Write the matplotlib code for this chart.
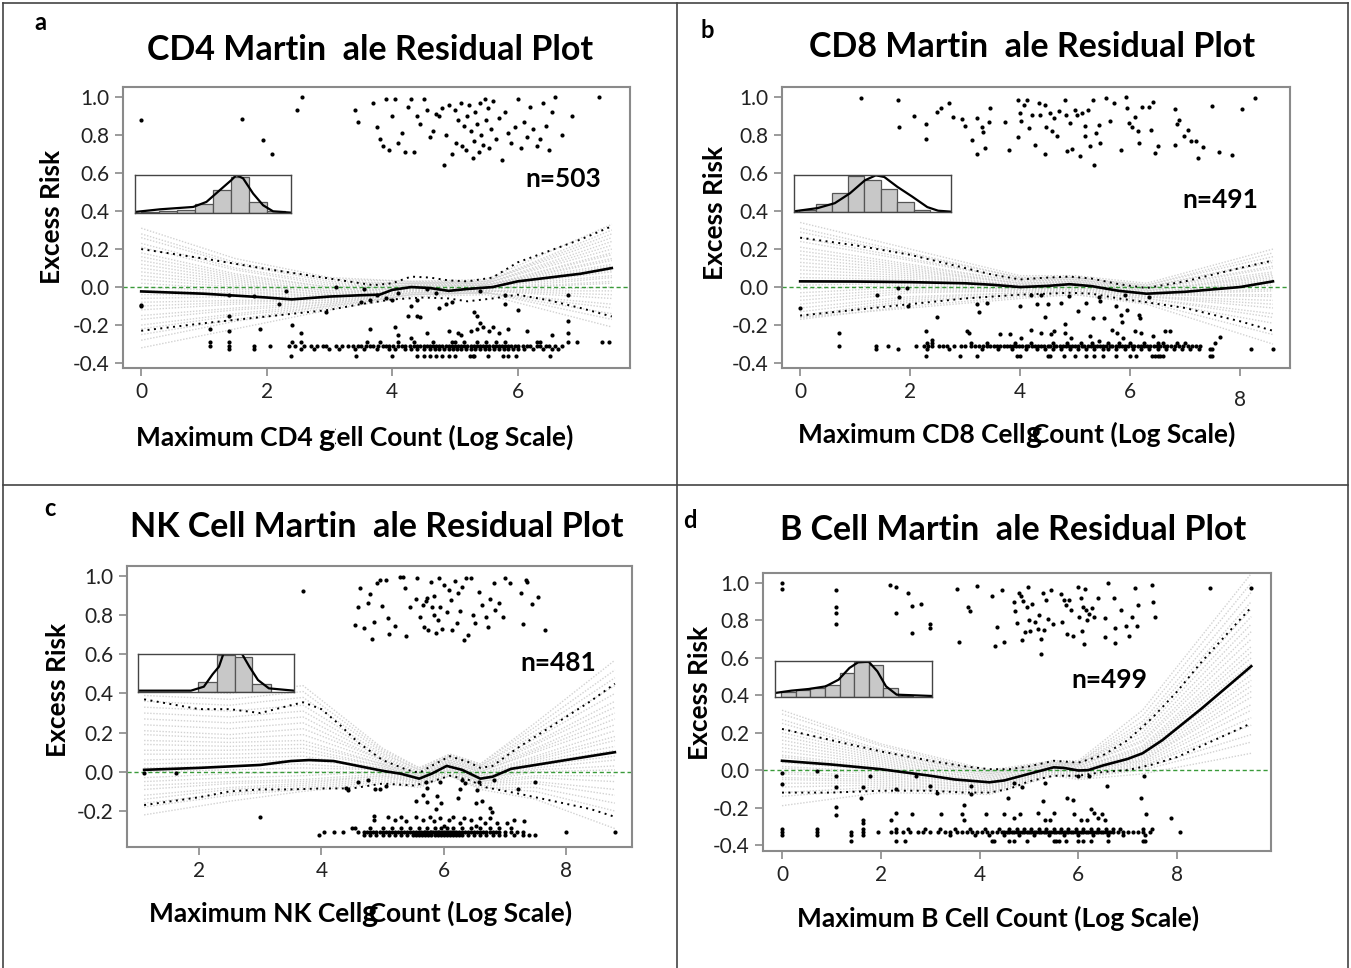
import numpy as np
import matplotlib
matplotlib.use("Agg")
import matplotlib.pyplot as plt
from matplotlib.lines import Line2D

W, H = 1351, 968
FONT = "Lato"

# ---------------- panel a : CD4 ----------------
cd4_fit_x = [0, 1, 2, 2.4, 3, 3.5, 3.8, 4.0, 4.3, 4.6, 4.9, 5.2, 5.6, 6.0, 7.0, 7.5]
cd4_fit_y = [-0.023, -0.035, -0.055, -0.065, -0.05, -0.043, -0.04, -0.015, 0.0, -0.005, -0.02, -0.01, 0.0, 0.03, 0.07, 0.10]
cd4_up_x = [0, 1, 2, 3, 3.7, 4.0, 4.3, 4.6, 4.9, 5.2, 5.6, 6.0, 7.0, 7.5]
cd4_up_y = [0.20, 0.15, 0.095, 0.045, 0.01, 0.02, 0.055, 0.05, 0.035, 0.03, 0.05, 0.13, 0.25, 0.32]
cd4_lo_x = [0, 1, 2, 3, 3.5, 4.0, 4.5, 4.9, 5.2, 5.6, 6.0, 6.5, 7.0, 7.5]
cd4_lo_y = [-0.23, -0.19, -0.155, -0.12, -0.09, -0.065, -0.055, -0.06, -0.075, -0.06, -0.04, -0.07, -0.11, -0.155]
cd4_boot_x = [0, 1.5, 3, 4.3, 5.5, 7.5]
cd4_boot = [
    [0.31, 0.15, 0.05, 0.03, 0.04, 0.33], [0.28, 0.13, 0.04, 0.03, 0.03, 0.30],
    [0.26, 0.12, 0.03, 0.02, 0.03, 0.28], [0.23, 0.10, 0.02, 0.02, 0.03, 0.26],
    [0.21, 0.09, 0.01, 0.02, 0.02, 0.24], [0.18, 0.07, 0.0, 0.02, 0.02, 0.22],
    [0.16, 0.06, 0.0, 0.01, 0.02, 0.20], [0.14, 0.05, -0.01, 0.01, 0.01, 0.18],
    [0.12, 0.04, -0.02, 0.01, 0.01, 0.17], [0.10, 0.03, -0.02, 0.01, 0.01, 0.15],
    [0.08, 0.02, -0.03, 0.0, 0.01, 0.14], [0.06, 0.01, -0.03, 0.0, 0.01, 0.12],
    [0.04, 0.0, -0.04, 0.0, 0.0, 0.11], [0.02, -0.01, -0.04, 0.0, 0.0, 0.09],
    [0.0, -0.02, -0.05, -0.01, 0.0, 0.08], [-0.02, -0.03, -0.05, -0.01, 0.0, 0.06],
    [-0.04, -0.04, -0.06, -0.01, -0.01, 0.05], [-0.06, -0.05, -0.06, -0.01, -0.01, 0.03],
    [-0.08, -0.07, -0.07, -0.02, -0.01, 0.02], [-0.10, -0.08, -0.07, -0.02, -0.02, 0.0],
    [-0.12, -0.09, -0.08, -0.02, -0.02, -0.02], [-0.15, -0.11, -0.08, -0.03, -0.02, -0.04],
    [-0.17, -0.12, -0.09, -0.03, -0.02, -0.06], [-0.20, -0.14, -0.09, -0.03, -0.03, -0.09],
    [-0.22, -0.15, -0.10, -0.04, -0.03, -0.11], [-0.25, -0.17, -0.10, -0.04, -0.03, -0.14],
    [-0.28, -0.18, -0.11, -0.04, -0.03, -0.17], [-0.32, -0.22, -0.12, -0.05, -0.04, -0.21]]
cd4_pts = [
    (0, 0.88), (1.61, 0.886), (1.94, 0.775), (2.08, 0.70), (2.48, 0.93), (2.57, 1.0),
    (3.4, 0.93), (3.45, 0.87), (3.7, 0.97), (3.75, 0.84), (3.8, 0.78), (3.85, 0.74), (3.9, 0.99),
    (3.95, 0.72), (4.0, 0.9), (4.05, 0.99), (4.1, 0.76), (4.15, 0.81), (4.2, 0.71), (4.25, 0.95),
    (4.3, 0.99), (4.35, 0.71), (4.4, 0.9), (4.45, 0.86), (4.5, 0.99), (4.55, 0.93), (4.6, 0.79),
    (4.65, 0.82), (4.7, 0.91), (4.75, 0.90), (4.8, 0.94), (4.82, 0.64), (4.85, 0.80), (4.9, 0.96),
    (4.95, 0.70), (5.0, 0.93), (5.02, 0.76), (5.05, 0.88), (5.1, 0.97), (5.12, 0.74), (5.15, 0.85),
    (5.18, 0.72), (5.2, 0.90), (5.22, 0.96), (5.25, 0.82), (5.28, 0.68), (5.3, 0.77), (5.32, 0.92),
    (5.35, 0.86), (5.38, 0.71), (5.4, 0.97), (5.42, 0.80), (5.45, 0.75), (5.48, 0.99), (5.5, 0.88),
    (5.52, 0.94), (5.55, 0.73), (5.58, 0.83), (5.6, 0.98), (5.65, 0.78), (5.7, 0.89), (5.75, 0.67),
    (5.8, 0.92), (5.85, 0.81), (5.9, 0.76), (5.95, 0.84), (6.0, 0.99), (6.05, 0.73), (6.1, 0.87),
    (6.15, 0.79), (6.2, 0.95), (6.25, 0.83), (6.3, 0.74), (6.35, 0.78), (6.4, 0.97), (6.45, 0.85),
    (6.5, 0.72), (6.55, 0.92), (6.6, 1.0), (6.7, 0.80), (6.86, 0.90), (7.3, 1.0),
    (0, -0.10), (0, -0.092), (1.4, -0.04), (1.8, -0.045), (2.2, -0.09), (2.3, -0.02), (3.1, 0.0),
    (3.5, -0.08), (3.55, -0.01), (3.65, -0.07), (3.75, -0.04), (3.9, -0.06), (4.0, -0.07),
    (4.1, -0.03), (4.3, -0.1), (4.4, -0.07), (4.55, -0.01), (4.7, -0.03), (4.75, -0.11),
    (4.85, -0.09), (4.95, -0.08), (5.4, -0.02), (5.8, -0.04), (5.8, -0.09), (6.8, -0.04),
    (1.1, -0.22), (1.4, -0.15), (1.4, -0.23), (1.9, -0.22), (2.4, -0.20), (2.55, -0.24),
    (2.95, -0.13), (3.65, -0.22), (4.05, -0.21), (4.1, -0.25), (4.25, -0.15), (4.3, -0.27),
    (4.4, -0.15), (4.45, -0.16), (4.55, -0.24), (4.9, -0.23), (5.05, -0.24), (5.1, -0.25),
    (5.25, -0.23), (5.3, -0.13), (5.35, -0.15), (5.35, -0.22), (5.4, -0.19), (5.45, -0.21),
    (5.55, -0.23), (5.6, -0.21), (5.7, -0.24), (5.85, -0.22), (6.0, -0.12), (6.15, -0.23),
    (6.55, -0.25), (6.8, -0.24), (6.8, -0.18)]
cd4_rows = {
    -0.29: [1.1, 1.4, 2.4, 2.55, 3.6, 3.8, 4.1, 4.35, 4.65, 4.95, 5.0, 5.15, 5.35, 5.5, 5.65,
            5.8, 6.3, 6.35, 6.8, 6.95, 7.35, 7.45],
    -0.31: [1.1, 1.4, 1.8, 2.05, 2.35, 2.45, 2.6, 2.7, 2.8, 2.9, 2.95, 3.1, 3.2, 3.3, 3.38, 3.45,
            3.5, 3.58, 3.65, 3.7, 3.78, 3.85, 3.9, 3.95, 4.02, 4.1, 4.15, 4.2, 4.28, 4.35, 4.4,
            4.45, 4.5, 4.55, 4.6, 4.65, 4.7, 4.75, 4.8, 4.85, 4.9, 4.95, 5.0, 5.05, 5.1, 5.15,
            5.2, 5.25, 5.3, 5.35, 5.4, 5.45, 5.5, 5.55, 5.6, 5.65, 5.7, 5.75, 5.8, 5.85, 5.9,
            5.95, 6.0, 6.08, 6.15, 6.2, 6.3, 6.35, 6.45, 6.5, 6.6, 6.7],
    -0.325: [1.4, 1.8, 2.55, 2.75, 3.0, 3.15, 3.4, 3.55, 3.75, 3.95, 4.05, 4.2, 4.3, 4.4, 4.5,
             4.6, 4.68, 4.75, 4.82, 4.9, 4.97, 5.03, 5.1, 5.18, 5.25, 5.32, 5.4, 5.48, 5.55,
             5.62, 5.7, 5.78, 5.85, 5.92, 6.0, 6.1, 6.25, 6.4, 6.55, 6.65],
    -0.362: [2.39, 3.43, 4.0, 4.4, 4.5, 4.6, 4.7, 4.8, 4.9, 5.0, 5.24, 5.28, 5.31, 5.52, 5.76,
             5.85, 5.97, 6.52]}
cd4_hist_left = [0.038, 0.154, 0.269, 0.384, 0.499, 0.614, 0.729, 0.845]
cd4_hist_h = [0.02, 0.06, 0.09, 0.24, 0.61, 0.96, 0.29, 0.05]
cd4_dens_x = [0, 0.16, 0.373, 0.458, 0.544, 0.618, 0.65, 0.693, 0.757, 0.821, 0.885, 1.0]
cd4_dens_y = [0.027, 0.097, 0.159, 0.292, 0.602, 0.867, 1.0, 0.912, 0.513, 0.204, 0.044, 0.009]

# ---------------- panel b : CD8 ----------------
cd8_fit_x = [0, 1, 2, 3, 3.5, 4, 4.5, 4.9, 5.3, 5.8, 6.3, 7, 8, 8.6]
cd8_fit_y = [0.03, 0.029, 0.026, 0.02, 0.012, 0.0, 0.006, 0.015, 0.005, -0.02, -0.035, -0.025, 0.0, 0.03]
cd8_up_y = [0.26, 0.22, 0.17, 0.10, 0.065, 0.04, 0.05, 0.055, 0.045, 0.015, -0.005, 0.03, 0.10, 0.14]
cd8_lo_y = [-0.15, -0.12, -0.09, -0.06, -0.05, -0.04, -0.035, -0.03, -0.035, -0.06, -0.08, -0.11, -0.18, -0.23]
cd8_boot_x = [0, 2, 4, 5, 6.3, 8.6]
cd8_boot = [
    [0.34, 0.20, 0.06, 0.06, 0.02, 0.20], [0.31, 0.18, 0.05, 0.05, 0.01, 0.18],
    [0.29, 0.17, 0.05, 0.05, 0.01, 0.16], [0.26, 0.15, 0.04, 0.05, 0.0, 0.14],
    [0.24, 0.14, 0.04, 0.04, 0.0, 0.13], [0.21, 0.12, 0.03, 0.04, -0.01, 0.11],
    [0.19, 0.11, 0.03, 0.04, -0.01, 0.10], [0.17, 0.10, 0.02, 0.03, -0.01, 0.08],
    [0.15, 0.09, 0.02, 0.03, -0.02, 0.07], [0.13, 0.08, 0.02, 0.03, -0.02, 0.06],
    [0.11, 0.07, 0.01, 0.02, -0.02, 0.05], [0.09, 0.06, 0.01, 0.02, -0.03, 0.04],
    [0.07, 0.05, 0.01, 0.02, -0.03, 0.03], [0.05, 0.04, 0.0, 0.01, -0.03, 0.02],
    [0.03, 0.03, 0.0, 0.01, -0.03, 0.01], [0.01, 0.02, 0.0, 0.01, -0.04, -0.01],
    [-0.01, 0.01, -0.01, 0.01, -0.04, -0.02], [-0.03, 0.0, -0.01, 0.0, -0.04, -0.04],
    [-0.05, -0.01, -0.01, 0.0, -0.04, -0.05], [-0.07, -0.02, -0.02, 0.0, -0.05, -0.07],
    [-0.09, -0.03, -0.02, -0.01, -0.05, -0.09], [-0.11, -0.05, -0.03, -0.01, -0.05, -0.11],
    [-0.13, -0.06, -0.03, -0.02, -0.06, -0.14], [-0.15, -0.07, -0.04, -0.02, -0.06, -0.16],
    [-0.16, -0.08, -0.04, -0.03, -0.07, -0.19], [-0.17, -0.10, -0.05, -0.04, -0.08, -0.25],
    [-0.16, -0.11, -0.06, -0.04, -0.09, -0.30]]
cd8_pts = [
    (1.10, 0.995), (1.78, 0.986), (1.80, 0.84), (2.07, 0.90), (2.29, 0.86), (2.29, 0.78),
    (2.49, 0.92), (2.56, 0.94), (2.70, 0.97), (2.78, 0.895), (2.94, 0.886), (2.99, 0.85),
    (3.13, 0.775), (3.21, 0.89), (3.21, 0.70), (3.31, 0.84), (3.33, 0.816), (3.37, 0.73),
    (3.43, 0.867), (3.46, 0.94), (3.73, 0.87), (3.80, 0.72), (3.97, 0.986), (3.97, 0.79),
    (3.99, 0.916), (4.02, 0.872), (4.07, 0.96), (4.12, 0.986), (4.16, 0.837), (4.21, 0.907),
    (4.27, 0.75), (4.35, 0.968), (4.37, 0.907), (4.45, 0.96), (4.46, 0.70), (4.48, 0.84),
    (4.54, 0.916), (4.59, 0.82), (4.62, 0.89), (4.68, 0.796), (4.70, 0.925), (4.81, 0.986),
    (4.84, 0.907), (4.85, 0.714), (4.90, 0.863), (4.95, 0.726), (5.0, 0.933), (5.03, 0.907),
    (5.09, 0.688), (5.13, 0.916), (5.18, 0.846), (5.18, 0.793), (5.23, 0.933), (5.28, 0.74),
    (5.32, 0.986), (5.34, 0.64), (5.39, 0.81), (5.44, 0.854), (5.46, 0.758), (5.57, 0.995),
    (5.64, 0.872), (5.70, 0.968), (5.83, 0.72), (5.93, 1.0), (5.95, 0.942), (5.99, 0.863),
    (6.03, 0.84), (6.09, 0.895), (6.14, 0.824), (6.17, 0.758), (6.22, 0.95), (6.34, 0.95),
    (6.38, 0.828), (6.42, 0.972), (6.46, 0.705), (6.51, 0.744), (6.81, 0.937), (6.81, 0.749),
    (6.85, 0.86), (6.90, 0.88), (6.98, 0.796), (7.06, 0.825), (7.11, 0.767), (7.20, 0.767),
    (7.24, 0.679), (7.32, 0.735), (7.49, 0.954), (7.61, 0.709), (7.85, 0.695), (8.04, 0.937),
    (8.28, 0.995),
    (0, -0.11), (1.39, -0.044), (1.78, -0.005), (1.80, -0.05), (1.94, -0.005), (1.96, -0.10),
    (2.49, -0.155), (3.21, -0.09), (3.25, -0.13), (3.39, -0.085), (3.99, -0.10), (4.19, -0.044),
    (4.31, -0.09), (4.38, -0.044), (4.45, -0.155), (4.50, -0.088), (4.74, -0.084), (4.81, -0.195),
    (4.89, -0.046), (5.05, -0.128), (5.20, -0.084), (5.32, -0.163), (5.44, -0.05), (5.46, -0.075),
    (5.52, -0.163), (5.75, -0.10), (5.83, -0.146), (5.85, -0.186), (5.91, -0.04), (5.95, -0.12),
    (6.17, -0.146), (6.18, -0.163), (6.34, -0.05),
    (0.70, -0.24), (2.29, -0.233), (2.39, -0.28), (3.04, -0.23), (3.07, -0.24), (3.64, -0.247),
    (3.82, -0.247), (4.02, -0.268), (4.19, -0.225), (4.38, -0.24), (4.56, -0.247), (4.62, -0.233),
    (4.81, -0.242), (4.93, -0.268), (5.28, -0.26), (5.44, -0.286), (5.67, -0.225), (5.77, -0.24),
    (5.87, -0.268), (6.09, -0.233), (6.20, -0.242), (6.42, -0.26), (6.64, -0.233), (6.72, -0.233),
    (7.63, -0.265)]
cd8_rows = {
    -0.295: [2.3, 2.4, 3.1, 3.4, 3.9, 4.2, 4.6, 4.85, 5.1, 5.3, 5.6, 5.8, 6.0, 6.25, 6.5, 6.6,
             6.85, 7.0, 7.55],
    -0.31: [0.70, 1.38, 1.60, 2.10, 2.25, 2.32, 2.40, 2.52, 2.60, 2.68, 2.80, 2.92, 3.00, 3.10,
            3.18, 3.26, 3.33, 3.40, 3.46, 3.52, 3.58, 3.63, 3.70, 3.76, 3.82, 3.88, 3.93, 3.98,
            4.04, 4.10, 4.15, 4.21, 4.27, 4.32, 4.38, 4.44, 4.50, 4.55, 4.61, 4.66, 4.72, 4.78,
            4.83, 4.89, 4.95, 5.00, 5.06, 5.12, 5.17, 5.23, 5.29, 5.34, 5.40, 5.46, 5.51, 5.57,
            5.63, 5.68, 5.74, 5.80, 5.86, 5.91, 5.97, 6.03, 6.08, 6.14, 6.20, 6.26, 6.31, 6.37,
            6.43, 6.49, 6.55, 6.62, 6.68, 6.75, 6.82, 6.90, 6.97, 7.05, 7.12, 7.20, 7.28],
    -0.325: [1.38, 1.78, 2.3, 2.7, 3.3, 3.6, 3.85, 4.1, 4.3, 4.45, 4.6, 4.75, 4.9, 5.05, 5.2,
             5.35, 5.5, 5.6, 5.75, 5.9, 6.05, 6.2, 6.35, 6.5, 6.65, 6.8, 6.95, 7.1, 7.25, 7.45,
             7.5, 8.2, 8.6],
    -0.365: [2.29, 2.9, 3.21, 3.95, 4.0, 4.5, 4.55, 4.8, 5.0, 5.2, 5.35, 5.5, 5.75, 6.0, 6.1,
             6.4, 6.45, 6.5, 6.55, 6.6, 7.45, 7.5]}
cd8_hist_left = [0.033, 0.137, 0.241, 0.345, 0.449, 0.553, 0.658, 0.762]
cd8_hist_h = [0.062, 0.221, 0.504, 0.965, 0.858, 0.619, 0.265, 0.062]
cd8_dens_x = [0, 0.151, 0.26, 0.356, 0.452, 0.521, 0.575, 0.658, 0.753, 0.849, 0.918, 1.0]
cd8_dens_y = [0.018, 0.106, 0.239, 0.504, 0.858, 0.991, 0.947, 0.681, 0.416, 0.133, 0.035, 0.009]

# ---------------- panel c : NK ----------------
nk_fit_x = [1.1, 2, 3, 3.5, 3.8, 4.2, 4.6, 5.0, 5.3, 5.6, 5.8, 6.05, 6.3, 6.6, 6.8, 7.1, 8.0, 8.8]
nk_fit_y = [0.01, 0.02, 0.035, 0.055, 0.06, 0.055, 0.03, 0.005, -0.01, -0.035, -0.01, 0.03, 0.01, -0.035, -0.025, 0.015, 0.06, 0.10]
nk_up_x = [1.1, 2, 2.5, 3, 3.5, 3.7, 4.0, 4.3, 4.6, 5.0, 5.4, 5.6, 5.8, 6.1, 6.4, 6.6, 6.8, 7.2, 7.8, 8.4, 8.8]
nk_up_y = [0.37, 0.32, 0.32, 0.30, 0.34, 0.355, 0.32, 0.24, 0.15, 0.06, 0.01, -0.005, 0.03, 0.08, 0.05, 0.02, 0.03, 0.12, 0.24, 0.36, 0.45]
nk_lo_x = [1.1, 2, 2.5, 3, 3.5, 4.0, 4.5, 5.0, 5.5, 5.8, 6.1, 6.4, 6.7, 7.2, 7.8, 8.4, 8.8]
nk_lo_y = [-0.17, -0.13, -0.10, -0.09, -0.09, -0.085, -0.085, -0.06, -0.07, -0.05, -0.02, -0.04, -0.08, -0.11, -0.15, -0.19, -0.23]
nk_boot_x = [1.1, 2.5, 3.7, 5.0, 5.6, 6.1, 6.6, 7.5, 8.8]
nk_boot = [
    [0.42, 0.40, 0.44, 0.12, 0.02, 0.09, 0.04, 0.25, 0.57],
    [0.39, 0.37, 0.41, 0.11, 0.02, 0.09, 0.04, 0.23, 0.52],
    [0.36, 0.34, 0.38, 0.10, 0.01, 0.08, 0.03, 0.21, 0.48],
    [0.33, 0.31, 0.34, 0.09, 0.01, 0.08, 0.03, 0.19, 0.44],
    [0.30, 0.28, 0.31, 0.08, 0.0, 0.07, 0.02, 0.17, 0.40],
    [0.27, 0.25, 0.28, 0.07, 0.0, 0.07, 0.02, 0.15, 0.36],
    [0.24, 0.22, 0.25, 0.06, -0.01, 0.06, 0.01, 0.14, 0.33],
    [0.21, 0.19, 0.22, 0.06, -0.01, 0.06, 0.01, 0.12, 0.30],
    [0.19, 0.17, 0.19, 0.05, -0.02, 0.05, 0.0, 0.11, 0.27],
    [0.16, 0.15, 0.16, 0.04, -0.02, 0.05, 0.0, 0.10, 0.24],
    [0.14, 0.13, 0.14, 0.04, -0.02, 0.04, -0.01, 0.08, 0.21],
    [0.11, 0.11, 0.12, 0.03, -0.03, 0.04, -0.01, 0.07, 0.18],
    [0.09, 0.09, 0.10, 0.03, -0.03, 0.04, -0.02, 0.06, 0.16],
    [0.06, 0.07, 0.08, 0.02, -0.03, 0.03, -0.02, 0.05, 0.13],
    [0.04, 0.05, 0.06, 0.02, -0.03, 0.03, -0.03, 0.04, 0.11],
    [0.02, 0.03, 0.04, 0.01, -0.04, 0.02, -0.03, 0.03, 0.08],
    [0.0, 0.01, 0.02, 0.01, -0.04, 0.02, -0.04, 0.02, 0.06],
    [-0.03, -0.01, 0.0, 0.0, -0.04, 0.01, -0.04, 0.01, 0.03],
    [-0.05, -0.03, -0.02, 0.0, -0.05, 0.01, -0.05, 0.0, 0.01],
    [-0.07, -0.05, -0.04, -0.01, -0.05, 0.0, -0.05, -0.02, -0.02],
    [-0.09, -0.06, -0.05, -0.02, -0.05, 0.0, -0.06, -0.03, -0.05],
    [-0.12, -0.08, -0.06, -0.02, -0.06, -0.01, -0.06, -0.05, -0.09],
    [-0.14, -0.09, -0.07, -0.03, -0.06, -0.01, -0.07, -0.06, -0.12],
    [-0.16, -0.11, -0.08, -0.04, -0.07, -0.02, -0.08, -0.08, -0.16],
    [-0.18, -0.12, -0.09, -0.05, -0.07, -0.02, -0.08, -0.10, -0.20],
    [-0.22, -0.15, -0.10, -0.06, -0.08, -0.02, -0.09, -0.14, -0.29]]
nk_pts = [
    (3.70, 0.925), (4.55, 0.75), (4.60, 0.84), (4.63, 0.94), (4.70, 0.736), (4.76, 0.86),
    (4.79, 0.908), (4.83, 0.68), (4.86, 0.763), (4.91, 0.966), (4.96, 0.982), (4.99, 0.846),
    (5.06, 0.982), (5.09, 0.784), (5.11, 0.704), (5.21, 0.747), (5.28, 0.997), (5.34, 0.997),
    (5.36, 0.937), (5.39, 0.694), (5.45, 0.84), (5.54, 0.884), (5.57, 0.99), (5.61, 0.793),
    (5.66, 0.85), (5.68, 0.74), (5.71, 0.874), (5.73, 0.886), (5.75, 0.725), (5.80, 0.97),
    (5.81, 0.844), (5.84, 0.90), (5.84, 0.80), (5.87, 0.708), (5.91, 0.776), (5.92, 0.99),
    (5.94, 0.844), (5.98, 0.73), (6.01, 0.954), (6.05, 0.818), (6.09, 0.93), (6.12, 0.878),
    (6.14, 0.725), (6.18, 0.975), (6.21, 0.762), (6.23, 0.912), (6.26, 0.823), (6.30, 0.942),
    (6.33, 0.674), (6.37, 0.99), (6.40, 0.697), (6.44, 0.99), (6.48, 0.80), (6.51, 0.759),
    (6.58, 0.92), (6.62, 0.853), (6.69, 0.79), (6.72, 0.742), (6.76, 0.88), (6.83, 0.963),
    (6.84, 0.827), (6.91, 0.864), (6.97, 0.793), (7.01, 0.99), (7.08, 0.966), (7.26, 0.912),
    (7.29, 0.755), (7.35, 0.982), (7.36, 0.97), (7.45, 0.857), (7.54, 0.895), (7.66, 0.725),
    (1.10, -0.006), (1.62, -0.006), (3.00, -0.23), (4.40, -0.083), (4.43, -0.095), (4.60, -0.05),
    (4.76, -0.04), (4.87, -0.09), (4.95, -0.09), (5.06, -0.074), (5.54, -0.15), (5.66, -0.117),
    (5.71, -0.05), (5.72, -0.156), (5.73, -0.083), (5.87, -0.19), (5.89, -0.125), (5.94, -0.05),
    (5.96, -0.16), (6.23, -0.134), (6.26, -0.09), (6.30, -0.04), (6.35, -0.057), (6.53, -0.16),
    (6.55, -0.095), (6.58, -0.05), (6.62, -0.15), (6.76, -0.185), (6.79, -0.205), (6.83, -0.04),
    (7.22, -0.09), (7.50, -0.05),
    (4.86, -0.224), (4.86, -0.244), (5.09, -0.232), (5.20, -0.248), (5.30, -0.23), (5.38, -0.252),
    (5.55, -0.23), (5.66, -0.248), (5.77, -0.23), (5.84, -0.252), (5.94, -0.236), (6.01, -0.278),
    (6.09, -0.244), (6.16, -0.232), (6.26, -0.26), (6.33, -0.236), (6.44, -0.244), (6.53, -0.278),
    (6.60, -0.236), (6.67, -0.26), (6.76, -0.236), (6.87, -0.26), (7.04, -0.26), (7.15, -0.248),
    (7.31, -0.252)]
nk_rows = {
    -0.285: [4.5, 4.55, 4.8, 5.0, 5.15, 5.3, 5.45, 5.6, 5.72, 5.85, 5.95, 6.05, 6.15, 6.3, 6.45,
             6.6, 6.75, 6.9, 7.1],
    -0.305: [4.05, 4.2, 4.35, 4.6, 4.7, 4.75, 4.8, 4.85, 4.9, 4.95, 5.0, 5.05, 5.1, 5.15, 5.2,
             5.25, 5.3, 5.35, 5.4, 5.45, 5.5, 5.55, 5.6, 5.63, 5.67, 5.7, 5.73, 5.77, 5.8, 5.83,
             5.87, 5.9, 5.93, 5.97, 6.0, 6.03, 6.07, 6.1, 6.13, 6.17, 6.2, 6.25, 6.3, 6.35, 6.4,
             6.45, 6.5, 6.55, 6.6, 6.65, 6.7, 6.75, 6.8, 6.85, 6.9, 7.0, 7.1, 7.2, 7.3, 8.0, 8.8],
    -0.325: [3.96, 4.7, 4.8, 4.9, 5.0, 5.1, 5.2, 5.3, 5.4, 5.5, 5.55, 5.6, 5.65, 5.7, 5.75, 5.8,
             5.85, 5.9, 5.95, 6.0, 6.05, 6.1, 6.15, 6.2, 6.25, 6.3, 6.4, 6.5, 6.6, 6.7, 6.8, 6.9,
             7.0, 7.15, 7.3, 7.4, 7.5]}
nk_hist_left = [0.386, 0.506, 0.619, 0.733]
nk_hist_w = [0.12, 0.113, 0.114, 0.117]
nk_hist_h = [0.272, 0.982, 0.921, 0.202]
nk_dens_x = [0, 0.339, 0.422, 0.478, 0.519, 0.547, 0.608, 0.667, 0.714, 0.769, 0.839, 1.0]
nk_dens_y = [0.035, 0.035, 0.14, 0.465, 0.667, 1.0, 1.28, 1.0, 0.667, 0.316, 0.096, 0.035]

# ---------------- panel d : B cell ----------------
b_fit_x = [0, 1, 2, 3, 3.5, 4.2, 4.5, 5, 5.5, 5.7, 6.0, 6.2, 6.5, 7, 7.3, 7.7, 8.5, 9.5]
b_fit_y = [0.05, 0.03, 0.005, -0.03, -0.05, -0.065, -0.055, -0.02, 0.015, 0.012, -0.002, 0.0, 0.025, 0.06, 0.09, 0.16, 0.33, 0.555]
b_band_x = [0, 1, 2, 3, 3.7, 4.2, 4.6, 5.0, 5.5, 6.0, 6.5, 7, 7.5, 8, 8.5, 9.5]
b_up_y = [0.22, 0.16, 0.10, 0.05, 0.02, 0.005, 0.005, 0.02, 0.05, 0.04, 0.08, 0.16, 0.28, 0.42, 0.58, 0.87]
b_lo_y = [-0.12, -0.12, -0.11, -0.11, -0.12, -0.12, -0.10, -0.06, -0.03, -0.03, -0.01, 0.0, 0.03, 0.07, 0.13, 0.25]
b_boot_x = [0, 2, 4.2, 5.5, 6.0, 7.3, 9.5]
b_boot = [
    [0.32, 0.14, 0.0, 0.05, 0.05, 0.32, 1.05], [0.30, 0.13, -0.01, 0.05, 0.04, 0.29, 1.0],
    [0.27, 0.11, -0.01, 0.04, 0.04, 0.26, 0.95], [0.25, 0.10, -0.02, 0.04, 0.03, 0.24, 0.90],
    [0.22, 0.09, -0.02, 0.04, 0.03, 0.22, 0.86], [0.20, 0.08, -0.03, 0.03, 0.03, 0.20, 0.82],
    [0.18, 0.07, -0.03, 0.03, 0.02, 0.18, 0.78], [0.16, 0.06, -0.04, 0.03, 0.02, 0.16, 0.74],
    [0.14, 0.05, -0.04, 0.03, 0.02, 0.15, 0.70], [0.12, 0.04, -0.05, 0.02, 0.01, 0.13, 0.66],
    [0.10, 0.03, -0.05, 0.02, 0.01, 0.12, 0.63], [0.08, 0.02, -0.06, 0.02, 0.01, 0.11, 0.60],
    [0.07, 0.01, -0.06, 0.02, 0.0, 0.10, 0.57], [0.05, 0.0, -0.07, 0.01, 0.0, 0.09, 0.54],
    [0.04, 0.0, -0.07, 0.01, 0.0, 0.08, 0.51], [0.02, -0.01, -0.08, 0.01, -0.01, 0.07, 0.48],
    [0.01, -0.02, -0.08, 0.01, -0.01, 0.06, 0.45], [-0.01, -0.03, -0.09, 0.0, -0.01, 0.05, 0.42],
    [-0.02, -0.04, -0.09, 0.0, -0.01, 0.05, 0.39], [-0.04, -0.05, -0.10, 0.0, -0.02, 0.04, 0.35],
    [-0.05, -0.06, -0.10, 0.0, -0.02, 0.03, 0.32], [-0.07, -0.07, -0.11, -0.01, -0.03, 0.02, 0.28],
    [-0.09, -0.08, -0.11, -0.01, -0.03, 0.02, 0.24], [-0.12, -0.09, -0.12, -0.02, -0.04, 0.01, 0.19],
    [-0.14, -0.10, -0.12, -0.02, -0.04, 0.0, 0.15], [-0.19, -0.12, -0.13, -0.03, -0.05, -0.02, 0.09]]
b_pts = [
    (0, 1.0), (0, 0.965), (1.09, 0.96), (1.09, 0.87), (1.09, 0.84), (1.09, 0.78), (2.19, 0.99),
    (2.30, 0.98), (2.30, 0.84), (2.56, 0.946), (2.63, 0.875), (2.63, 0.73), (2.82, 0.887),
    (2.99, 0.783), (2.99, 0.757), (3.55, 0.967), (3.58, 0.687), (3.77, 0.87), (3.80, 0.852),
    (3.95, 0.985), (4.25, 0.93), (4.32, 0.664), (4.36, 0.762), (4.46, 0.96), (4.49, 0.684),
    (4.70, 0.896), (4.72, 0.848), (4.75, 0.786), (4.79, 0.946), (4.84, 0.928), (4.85, 0.697),
    (4.88, 0.905), (4.92, 0.74), (4.97, 0.87), (4.99, 0.977), (5.01, 0.80), (5.03, 0.745),
    (5.07, 0.89), (5.12, 0.79), (5.18, 0.754), (5.21, 0.83), (5.24, 0.70), (5.25, 0.62),
    (5.29, 0.946), (5.31, 0.746), (5.35, 0.91), (5.39, 0.807), (5.44, 0.964), (5.49, 0.78),
    (5.64, 0.94), (5.66, 0.79), (5.70, 0.91), (5.75, 0.88), (5.77, 0.725), (5.81, 0.907),
    (5.85, 0.857), (5.89, 0.715), (5.99, 0.98), (6.01, 0.82), (6.05, 0.92), (6.08, 0.742),
    (6.09, 0.87), (6.12, 0.673), (6.13, 0.967), (6.16, 0.854), (6.18, 0.80), (6.22, 0.836),
    (6.27, 0.866), (6.31, 0.82), (6.40, 0.92), (6.53, 0.81), (6.53, 0.71), (6.61, 1.0),
    (6.72, 0.92), (6.74, 0.757), (6.74, 0.68), (6.87, 0.857), (6.96, 0.77), (7.03, 0.715),
    (7.09, 0.82), (7.15, 0.974), (7.18, 0.77), (7.20, 0.88), (7.50, 0.99), (7.52, 0.897),
    (7.55, 0.82), (8.67, 0.974), (9.50, 0.974),
    (0, -0.017), (0, -0.075), (0.70, -0.007), (1.09, -0.03), (1.09, -0.088), (1.63, -0.088),
    (1.78, -0.03), (2.30, -0.10), (2.71, -0.034), (3.0, -0.084), (3.13, -0.12), (3.82, -0.084),
    (3.82, -0.128), (4.70, -0.07), (4.86, -0.088), (5.33, -0.07), (6.0, -0.034), (6.22, -0.034),
    (6.57, -0.084), (7.32, -0.03),
    (1.09, -0.195), (1.09, -0.24), (1.60, -0.15), (1.63, -0.265), (1.63, -0.284), (2.21, -0.265),
    (2.30, -0.23), (2.63, -0.236), (3.21, -0.236), (3.64, -0.236), (3.68, -0.186), (3.68, -0.265),
    (4.12, -0.236), (4.58, -0.15), (4.49, -0.236), (4.69, -0.257), (4.81, -0.236), (5.18, -0.227),
    (5.28, -0.163), (5.33, -0.265), (5.42, -0.265), (5.50, -0.23), (5.77, -0.15), (5.90, -0.16),
    (5.92, -0.236), (6.05, -0.265), (6.18, -0.265), (6.25, -0.21), (6.31, -0.227), (6.40, -0.254),
    (6.48, -0.236), (6.53, -0.265), (7.26, -0.15), (7.37, -0.236), (7.87, -0.254)]
b_rows = {
    -0.315: [0.0, 0.7, 1.63, 2.3, 2.55, 2.9, 3.2, 3.5, 3.8, 4.1, 4.4, 4.6, 4.75, 4.9, 5.05,
             5.2, 5.35, 5.5, 5.65, 5.8, 5.95, 6.1, 6.25, 6.4, 6.55, 6.7, 6.85, 7.3, 7.5],
    -0.33: [0.0, 0.7, 1.4, 1.63, 1.95, 2.2, 2.3, 2.45, 2.6, 2.75, 2.85, 3.0, 3.15, 3.3, 3.4,
            3.55, 3.65, 3.75, 3.85, 3.95, 4.05, 4.15, 4.25, 4.35, 4.45, 4.5, 4.55, 4.6, 4.65,
            4.7, 4.75, 4.8, 4.85, 4.9, 4.95, 5.0, 5.05, 5.1, 5.15, 5.2, 5.25, 5.3, 5.35, 5.4,
            5.45, 5.5, 5.55, 5.6, 5.65, 5.7, 5.75, 5.8, 5.85, 5.9, 5.95, 6.0, 6.05, 6.1, 6.15,
            6.2, 6.25, 6.3, 6.35, 6.4, 6.45, 6.5, 6.55, 6.6, 6.65, 6.7, 6.8, 6.9, 7.0, 7.1,
            7.2, 7.3, 7.45, 8.05],
    -0.345: [0.0, 0.7, 1.4, 1.63, 3.4, 3.9, 4.2, 4.5, 4.8, 5.1, 5.4, 5.7, 6.0, 6.3, 6.6, 6.9, 7.35],
    -0.38: [1.4, 2.3, 2.5, 4.25, 4.3, 4.6, 4.7, 4.95, 5.5, 5.55, 5.6, 5.75, 6.0, 6.1, 6.25, 6.6,
            7.3, 7.35]}
b_hist_left = [0.041, 0.132, 0.225, 0.318, 0.411, 0.504, 0.597, 0.690, 0.784]
b_hist_h = [0.148, 0.204, 0.259, 0.324, 0.667, 0.963, 0.898, 0.241, 0.037]
b_dens_x = [0, 0.104, 0.214, 0.323, 0.405, 0.474, 0.529, 0.597, 0.652, 0.707, 0.775, 1.0]
b_dens_y = [0.111, 0.176, 0.222, 0.296, 0.481, 0.806, 0.963, 0.981, 0.713, 0.296, 0.065, 0.028]


def rect(l, t, r, b):
    return [l / W, 1 - b / H, (r - l) / W, (b - t) / H]


def fx(px):
    return px / W


def fy(py):
    return 1 - py / H


fig = plt.figure(figsize=(W / 100, H / 100), dpi=100)

# panel frames
for seg in [((3, 1348), (3, 3)), ((3, 3), (3, 968)), ((1348, 1348), (3, 968)),
            ((677, 677), (3, 968)), ((3, 1348), (485, 485))]:
    fig.add_artist(Line2D([fx(v) for v in seg[0]], [fy(v) for v in seg[1]],
                          color="#444444", lw=1.2))


def panel(box, xlim, ylim, xticks, yticks, boot_x, boot, lo, up, fit, pts, rows,
          inset_box, hist_left, hist_w, hist_h, dens_x, dens_y):
    ax = fig.add_axes(rect(*box))
    for yrow in boot:
        ax.plot(boot_x, yrow, color="#d2d2d2", lw=1.0, ls=(0, (1, 1.2)), zorder=1)
    ax.axhline(0, color="#3a9a3a", lw=1.0, ls=(0, (3, 2)), zorder=2)
    ax.plot(lo[0], lo[1], color="black", lw=1.4, ls=(0, (1, 2.3)), zorder=3)
    ax.plot(up[0], up[1], color="black", lw=1.4, ls=(0, (1, 2.3)), zorder=3)
    ax.plot(fit[0], fit[1], color="black", lw=1.9, zorder=4)
    px = [p[0] for p in pts]
    py = [p[1] for p in pts]
    ax.scatter(px, py, s=9, color="black", linewidths=0, zorder=5)
    for yv, xs in rows.items():
        ax.scatter(xs, [yv] * len(xs), s=9, color="black", linewidths=0, zorder=5)
    ax.set_xlim(*xlim)
    ax.set_ylim(*ylim)
    ax.set_xticks(xticks)
    ax.set_yticks(yticks)
    ax.set_yticklabels(["%.1f" % v for v in yticks])
    for s in ax.spines.values():
        s.set_color("#8a8a8a")
        s.set_linewidth(1.5)
    ax.tick_params(direction="out", length=6, width=1.2, color="#8a8a8a",
                   labelsize=15, pad=4, labelcolor="#222222")
    for lab in ax.get_xticklabels() + ax.get_yticklabels():
        lab.set_fontfamily(FONT)
    # inset histogram
    ins = fig.add_axes(rect(*inset_box))
    ins.bar(hist_left, hist_h, width=hist_w, align="edge", color="#c8c8c8",
            edgecolor="#555555", lw=0.9)
    ins.plot(dens_x, dens_y, color="black", lw=1.6)
    ins.set_xlim(0, 1)
    ins.set_ylim(0, 1)
    ins.set_xticks([])
    ins.set_yticks([])
    for s in ins.spines.values():
        s.set_color("#444444")
        s.set_linewidth(1.0)
    return ax


yt_full = [-0.4, -0.2, 0.0, 0.2, 0.4, 0.6, 0.8, 1.0]

ax_a = panel((123, 87, 630, 368), (-0.29, 7.79), (-0.426, 1.053), [0, 2, 4, 6], yt_full,
             cd4_boot_x, cd4_boot, (cd4_lo_x, cd4_lo_y), (cd4_up_x, cd4_up_y),
             (cd4_fit_x, cd4_fit_y), cd4_pts, cd4_rows, (135, 175, 291, 213),
             cd4_hist_left, 0.1155, cd4_hist_h, cd4_dens_x, cd4_dens_y)
ax_b = panel((782, 87, 1290, 368), (-0.33, 8.91), (-0.426, 1.053), [0, 2, 4, 6, 8], yt_full,
             cd8_boot_x, cd8_boot, (cd8_fit_x, cd8_lo_y), (cd8_fit_x, cd8_up_y),
             (cd8_fit_x, cd8_fit_y), cd8_pts, cd8_rows, (794, 175, 951, 212),
             cd8_hist_left, 0.104, cd8_hist_h, cd8_dens_x, cd8_dens_y)
ax_c = panel((127, 566, 632, 847), (0.82, 9.08), (-0.384, 1.051), [2, 4, 6, 8], yt_full[1:],
             nk_boot_x, nk_boot, (nk_lo_x, nk_lo_y), (nk_up_x, nk_up_y),
             (nk_fit_x, nk_fit_y), nk_pts, nk_rows, (138, 654, 294, 692),
             nk_hist_left, nk_hist_w, nk_hist_h, nk_dens_x, nk_dens_y)
ax_d = panel((763, 573, 1271, 851), (-0.385, 9.9), (-0.432, 1.053), [0, 2, 4, 6, 8], yt_full,
             b_boot_x, b_boot, (b_band_x, b_lo_y), (b_band_x, b_up_y),
             (b_fit_x, b_fit_y), b_pts, b_rows, (775, 661, 932, 697),
             b_hist_left, 0.093, b_hist_h, b_dens_x, b_dens_y)

# the "8" on panel b sits a little lower
ax_b.get_xticklabels()[-1].set_y(-0.03)

bold = dict(fontfamily=FONT, fontweight="bold")
titles = [("CD4 Martin  ale Residual Plot", 370, 50), ("CD8 Martin  ale Residual Plot", 1032, 47),
          ("NK Cell Martin  ale Residual Plot", 377, 527), ("B Cell Martin  ale Residual Plot", 1013, 530)]
for t, x, y in titles:
    fig.text(fx(x), fy(y), t, ha="center", va="center", fontsize=24.5, **bold)

for t, x, y in [("a", 40, 22), ("b", 707, 30), ("c", 50, 508), ("d", 690, 520)]:
    fig.text(fx(x), fy(y), t, ha="center", va="center", fontsize=17, **bold)

for t, x, y in [("n=503", 563, 179), ("n=491", 1220, 200), ("n=481", 558, 663), ("n=499", 1109, 680)]:
    fig.text(fx(x), fy(y), t, ha="center", va="center", fontsize=19, **bold)

for x, y in [(52, 217), (715, 213), (58, 690), (700, 693)]:
    fig.text(fx(x), fy(y), "Excess Risk", ha="center", va="center", rotation=90,
             fontsize=19, **bold)

# x labels; the "g" lost from "Martingale" sits on top of each label
# (in panel a it hides the "C" of "Cell")
xlabels = [("Maximum CD4 Cell Count (Log Scale)", "Maximum CD4 ", 355, 446, True),
           ("Maximum CD8 Cell Count (Log Scale)", "Maximum CD8 Cell", 1017, 443, False),
           ("Maximum NK Cell Count (Log Scale)", "Maximum NK Cell", 361, 922, False),
           ("Maximum B Cell Count (Log Scale)", None, 998, 927, False)]
fig.canvas.draw()
rend = fig.canvas.get_renderer()
for full, prefix, x, y, mask in xlabels:
    t = fig.text(fx(x), fy(y), full, ha="center", va="baseline", fontsize=19, **bold)
    if prefix is None:
        continue
    bb = t.get_window_extent(rend)
    tmp = fig.text(0, 0, prefix, fontsize=19, **bold)
    w = tmp.get_window_extent(rend).width
    tmp.remove()
    kw = {}
    if mask:
        kw["bbox"] = dict(facecolor="white", edgecolor="none", pad=0.3)
    fig.text((bb.x0 + w - 1) / W, fy(y), "g", ha="left", va="baseline", fontsize=22,
             **bold, **kw)

fig.savefig("out.png", dpi=100)
